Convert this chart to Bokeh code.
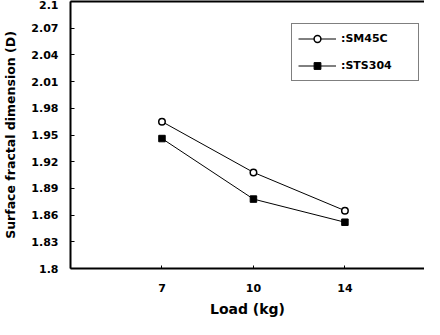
from bokeh.plotting import figure
from bokeh.models import Range1d, FixedTicker, LinearAxis, Legend, LegendItem
from bokeh.embed import file_html
from bokeh.resources import INLINE

# ---- data ----
loads = ["7", "10", "14"]
sm45c = [1.965, 1.908, 1.865]
sts304 = [1.946, 1.878, 1.852]
y_ticks = [1.8, 1.83, 1.86, 1.89, 1.92, 1.95, 1.98, 2.01, 2.04, 2.07, 2.1]
y_tick_labels = ["1.8", "1.83", "1.86", "1.89", "1.92", "1.95", "1.98", "2.01", "2.04", "2.07", "2.1"]

x_pos = list(range(1, len(loads) + 1))

FONT = "DejaVu Sans"

p = figure(width=424, height=319, output_backend="svg", toolbar_location=None,
           x_range=Range1d(0, 3.87), y_range=Range1d(1.8, 2.1),
           min_border_left=68, min_border_right=0, min_border_top=1, min_border_bottom=48)
p.outline_line_color = None
p.grid.grid_line_color = None
p.background_fill_color = "white"
p.border_fill_color = "white"

# x axis
xa = p.xaxis[0]
xa.ticker = FixedTicker(ticks=x_pos)
xa.major_label_overrides = {i: l for i, l in zip(x_pos, loads)}
xa.axis_label = "Load (kg)"
# y axis
ya = p.yaxis[0]
ya.ticker = FixedTicker(ticks=y_ticks)
ya.major_label_overrides = {t: l for t, l in zip(y_ticks, y_tick_labels)}
ya.axis_label = "Surface fractal dimension (D)"

for ax in (xa, ya):
    ax.axis_line_width = 2
    ax.axis_line_color = "black"
    ax.major_tick_in = 4
    ax.major_tick_out = 0
    ax.major_tick_line_width = 1
    ax.minor_tick_line_color = None
    ax.major_label_text_font = FONT
    ax.major_label_text_font_style = "bold"
    ax.major_label_text_font_size = "11px"
    ax.major_label_text_color = "black"
    ax.axis_label_text_font = FONT
    ax.axis_label_text_font_style = "bold"
    ax.axis_label_text_color = "black"
xa.major_tick_in = 3
xa.major_label_standoff = 15
xa.axis_label_standoff = 6
xa.axis_label_text_font_size = "14px"
ya.major_label_standoff = 12
ya.axis_label_standoff = 10
ya.axis_label_text_font_size = "12.5px"

top = LinearAxis(ticker=FixedTicker(ticks=[]), axis_line_width=2, axis_line_color="black",
                 major_tick_line_color=None, minor_tick_line_color=None,
                 major_label_text_font_size="0px")
p.add_layout(top, "above")

# series
l1 = p.line(x_pos, sm45c, line_color="black", line_width=1)
m1 = p.scatter(x_pos, sm45c, marker="circle", size=6.5, fill_color="white",
               line_color="black", line_width=1.5)
l2 = p.line(x_pos, sts304, line_color="black", line_width=1)
m2 = p.scatter(x_pos, sts304, marker="square", size=6.5, fill_color="black",
               line_color="black", line_width=1)

legend = Legend(items=[LegendItem(label=":SM45C", renderers=[l1, m1]),
                       LegendItem(label=":STS304", renderers=[l2, m2])],
                location=(221, 187), orientation="vertical",
                border_line_color="black", border_line_width=1.5,
                background_fill_color="white", background_fill_alpha=1,
                padding=6, spacing=10, glyph_width=38, glyph_height=17,
                label_height=17, label_standoff=5, label_width=71, margin=0,
                label_text_font=FONT, label_text_font_style="bold",
                label_text_font_size="11px", label_text_color="black")
p.add_layout(legend, "center")

open("out.html", "w").write(file_html(p, INLINE))
